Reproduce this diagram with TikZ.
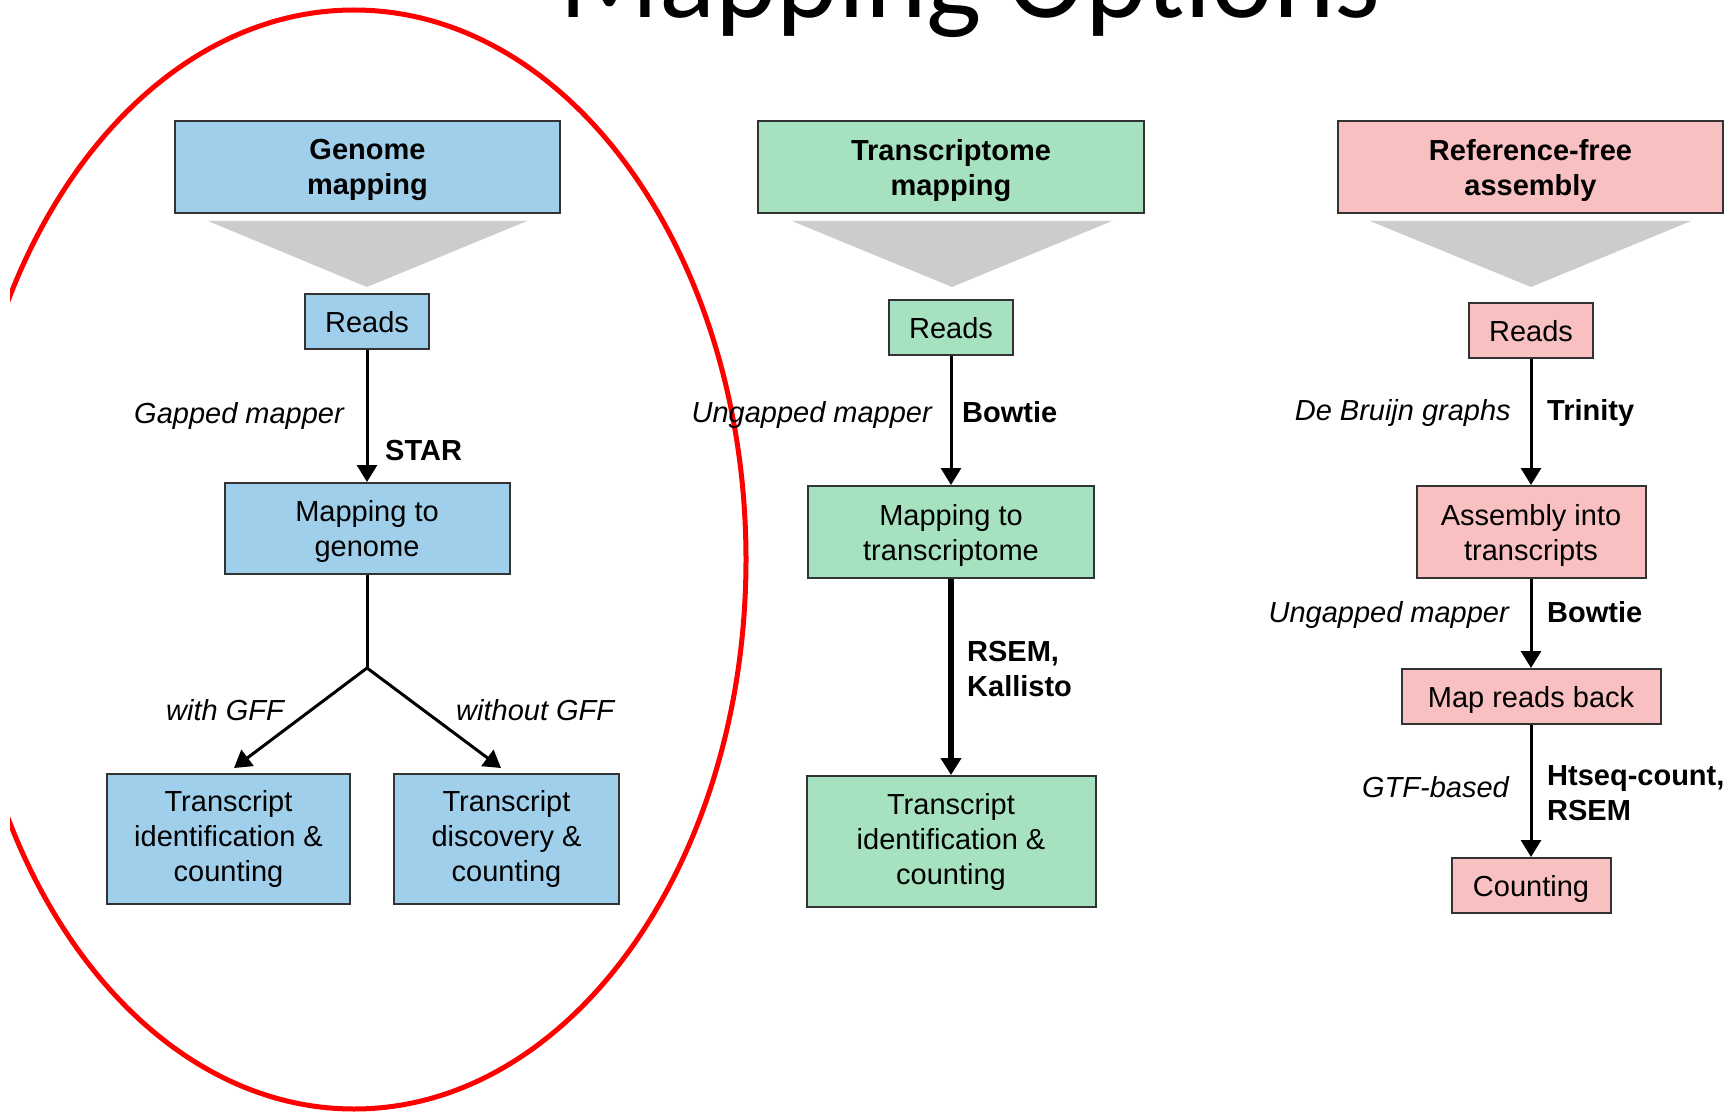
\documentclass[tikz,border=0pt]{standalone}
\usepackage{fontspec}
\setmainfont{Liberation Sans}
\newfontfamily\titlefont{Carlito}
\usetikzlibrary{arrows.meta}
\definecolor{bluefill}{HTML}{9FCFEA}
\definecolor{greenfill}{HTML}{A6E2BF}
\definecolor{pinkfill}{HTML}{F8C0C0}
\definecolor{boxline}{HTML}{333333}
\definecolor{trigray}{HTML}{CCCCCC}
\begin{document}
\begin{tikzpicture}[x=1pt,y=-1pt,
  boxbase/.style={draw=boxline, line width=2pt, inner sep=0pt, align=center, font=\fontsize{29}{35}\selectfont},
  box/.style={boxbase, text depth=0pt},
  boxthree/.style={boxbase},
  hbox/.style={box, font=\fontsize{29}{35}\selectfont\bfseries},
  flow/.style={line width=3pt, -{Triangle[length=17pt,width=20pt]}},
  lab/.style={inner sep=0pt, font=\fontsize{29}{35}\selectfont\itshape},
  tool/.style={inner sep=0pt, font=\fontsize{29}{35}\selectfont\bfseries, align=left},
  tri/.style={fill=trigray, draw=none},
]
\useasboundingbox (0,0) rectangle (1733,1115);
\fill[white] (0,0) rectangle (1733,1115);

% title
\node[anchor=base, inner sep=0pt, font=\titlefont\fontsize{117}{120}\selectfont] (title) at (970,18) {Mapping Options};

% highlight ellipse
\begin{scope}
\clip (10,0) rectangle (1733,1115);
\draw[red, line width=5pt] (354,559.5) ellipse [x radius=392, y radius=549.5];
\end{scope}

% gray funnels
\fill[tri] (208,221) -- (527,221) -- (367,287) -- cycle;
\fill[tri] (792,221) -- (1112,221) -- (952,287) -- cycle;
\fill[tri] (1370,221) -- (1691,221) -- (1531,287) -- cycle;

% genome column
\node[hbox, fill=bluefill, minimum width=385pt, minimum height=92pt] (g0) at (367.5,167) {Genome\\mapping};
\node[box, fill=bluefill, minimum width=124pt, minimum height=55pt] (g1) at (367,321.5) {Reads};
\node[box, fill=bluefill, minimum width=285pt, minimum height=91pt] (g2) at (367,528.5) {Mapping to\\genome};
\node[boxthree, fill=bluefill, minimum width=243pt, minimum height=130pt] (g3) at (228.5,839) {Transcript\\identification \&\\counting};
\node[boxthree, fill=bluefill, minimum width=225pt, minimum height=130pt] (g4) at (506.5,839) {Transcript\\discovery \&\\counting};

% transcriptome column
\node[hbox, fill=greenfill, minimum width=386pt, minimum height=92pt] (t0) at (951,167) {Transcriptome\\mapping};
\node[box, fill=greenfill, minimum width=124pt, minimum height=55pt] (t1) at (951,327.5) {Reads};
\node[box, fill=greenfill, minimum width=286pt, minimum height=92pt] (t2) at (951,532) {Mapping to\\transcriptome};
\node[boxthree, fill=greenfill, minimum width=289pt, minimum height=131pt] (t3) at (951,841.5) {Transcript\\identification \&\\counting};

% reference-free column
\node[hbox, fill=pinkfill, minimum width=385pt, minimum height=92pt] (r0) at (1530.5,167) {Reference-free\\assembly};
\node[box, fill=pinkfill, minimum width=124pt, minimum height=55pt] (r1) at (1531,330.5) {Reads};
\node[box, fill=pinkfill, minimum width=229pt, minimum height=92pt] (r2) at (1531,532) {Assembly into\\transcripts};
\node[box, fill=pinkfill, minimum width=259pt, minimum height=55pt] (r3) at (1531,696.5) {Map reads back};
\node[box, fill=pinkfill, minimum width=159pt, minimum height=55pt] (r4) at (1531,885.5) {Counting};

% connectors
\draw[flow] (g1) -- (g2);
\coordinate (br) at (367,668);
\coordinate (tl) at (234,768);
\coordinate (tr) at (501,768);
\draw[line width=3pt] (g2) -- (br);
\draw[line width=3pt, line join=miter, {Triangle[length=17pt,width=20pt]}-{Triangle[length=17pt,width=20pt]}] (tl) -- (br) -- (tr);

\draw[flow] (t1) -- (t2);
\draw[flow, line width=6pt] (t2) -- (t3);

\draw[flow] (r1) -- (r2);
\draw[flow] (r2) -- (r3);
\draw[flow] (r3) -- (r4);

% labels
\node[lab, anchor=base east] (l1) at (344,423) {Gapped mapper};
\node[tool, anchor=base west] (k1) at (385,460) {STAR};
\node[lab, anchor=base east] (l2) at (284,720) {with GFF};
\node[lab, anchor=base west] (l3) at (456,720) {without GFF};

\node[lab, anchor=base east] (l4) at (932,422) {Ungapped mapper};
\node[tool, anchor=base west] (k2) at (962,422) {Bowtie};
\node[tool, anchor=base west] (k3) at (967,696) {RSEM,\\Kallisto};

\node[lab, anchor=base east] (l5) at (1511,420) {De Bruijn graphs};
\node[tool, anchor=base west] (k4) at (1547,420) {Trinity};
\node[lab, anchor=base east] (l6) at (1509,622) {Ungapped mapper};
\node[tool, anchor=base west] (k5) at (1547,622) {Bowtie};
\node[lab, anchor=base east] (l7) at (1509,797) {GTF-based};
\node[tool, anchor=base west] (k6) at (1547,820) {Htseq-count,\\RSEM};
\end{tikzpicture}
\end{document}
